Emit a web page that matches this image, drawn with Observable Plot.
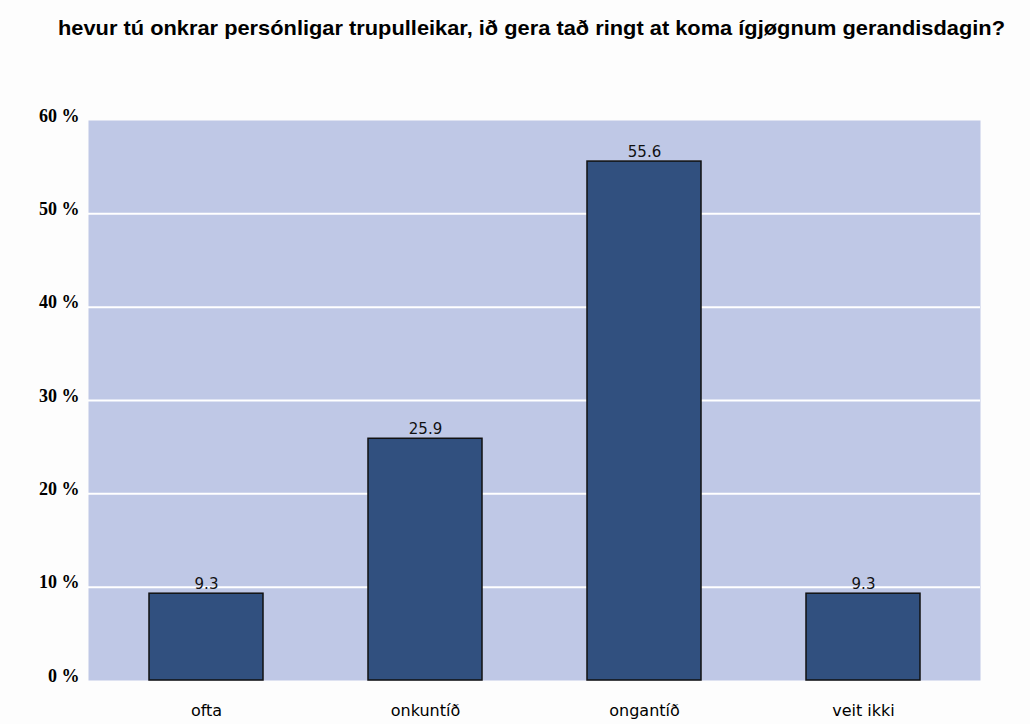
<!DOCTYPE html>
<html>
<head>
<meta charset="utf-8">
<script src="https://cdn.jsdelivr.net/npm/d3@7"></script>
<script src="https://cdn.jsdelivr.net/npm/@observablehq/plot@0.6"></script>
<style>
  html, body { margin: 0; padding: 0; background: #fdfdfd; }
  #title { height: 60px; box-sizing: border-box; padding-top: 18px; padding-left: 58px;
    font-family: "Liberation Sans", Arial, sans-serif; font-weight: bold; font-size: 18px;
    color: #000; white-space: nowrap; }
  #title span { display: inline-block; transform-origin: left center; }
</style>
</head>
<body>
<div id="title"><span>hevur tú onkrar persónligar trupulleikar, ið gera tað ringt at koma ígjøgnum gerandisdagin?</span></div>
<div id="chart"></div>
<script>
const categories = ["ofta", "onkuntíð", "ongantíð", "veit ikki"];
const values = [9.3, 25.9, 55.6, 9.3];
const yTicks = [0, 10, 20, 30, 40, 50, 60];
const gridTicks = [10, 20, 30, 40, 50];

const data = categories.map((c, i) => ({cat: c, v: values[i]}));

// stretch title to match reference width
const span = document.querySelector("#title span");
const w = span.getBoundingClientRect().width;
span.style.transform = `scale(${947 / w}, 1.1)`;

const chart = Plot.plot({
  width: 1030,
  height: 664,
  marginTop: 60,
  marginBottom: 44,
  marginLeft: 88,
  marginRight: 50,
  style: {background: "transparent"},
  x: {domain: categories, paddingInner: 0.48, paddingOuter: 0.24, insetLeft: 8.5, insetRight: 7.5, label: null},
  y: {domain: [0, 60], label: null},
  marks: [
    Plot.frame({fill: "#bfc8e6"}),
    Plot.ruleY(gridTicks, {stroke: "#ffffff", strokeWidth: 2}),
    Plot.barY(data, {x: "cat", y: "v", fill: "#31507f", stroke: "#111", strokeWidth: 1.5}),
    Plot.text(data, {x: "cat", y: "v", text: d => d.v.toFixed(1), dy: -5, lineAnchor: "bottom",
      fontFamily: "DejaVu Sans", fontSize: 15, fill: "#111", letterSpacing: "0.5px"}),
    Plot.axisY({ticks: yTicks, tickFormat: d => d + " %", tickSize: 0, tickPadding: 9,
      lineAnchor: "bottom", dy: 1, fontFamily: "Liberation Serif", fontWeight: "bold", fontSize: 18, fill: "#000"}),
    Plot.axisX({tickSize: 0, tickPadding: 24, fontFamily: "DejaVu Sans", fontSize: 16,
      fill: "#000", letterSpacing: "1.5px"})
  ]
});
document.getElementById("chart").appendChild(chart);
</script>
</body>
</html>
